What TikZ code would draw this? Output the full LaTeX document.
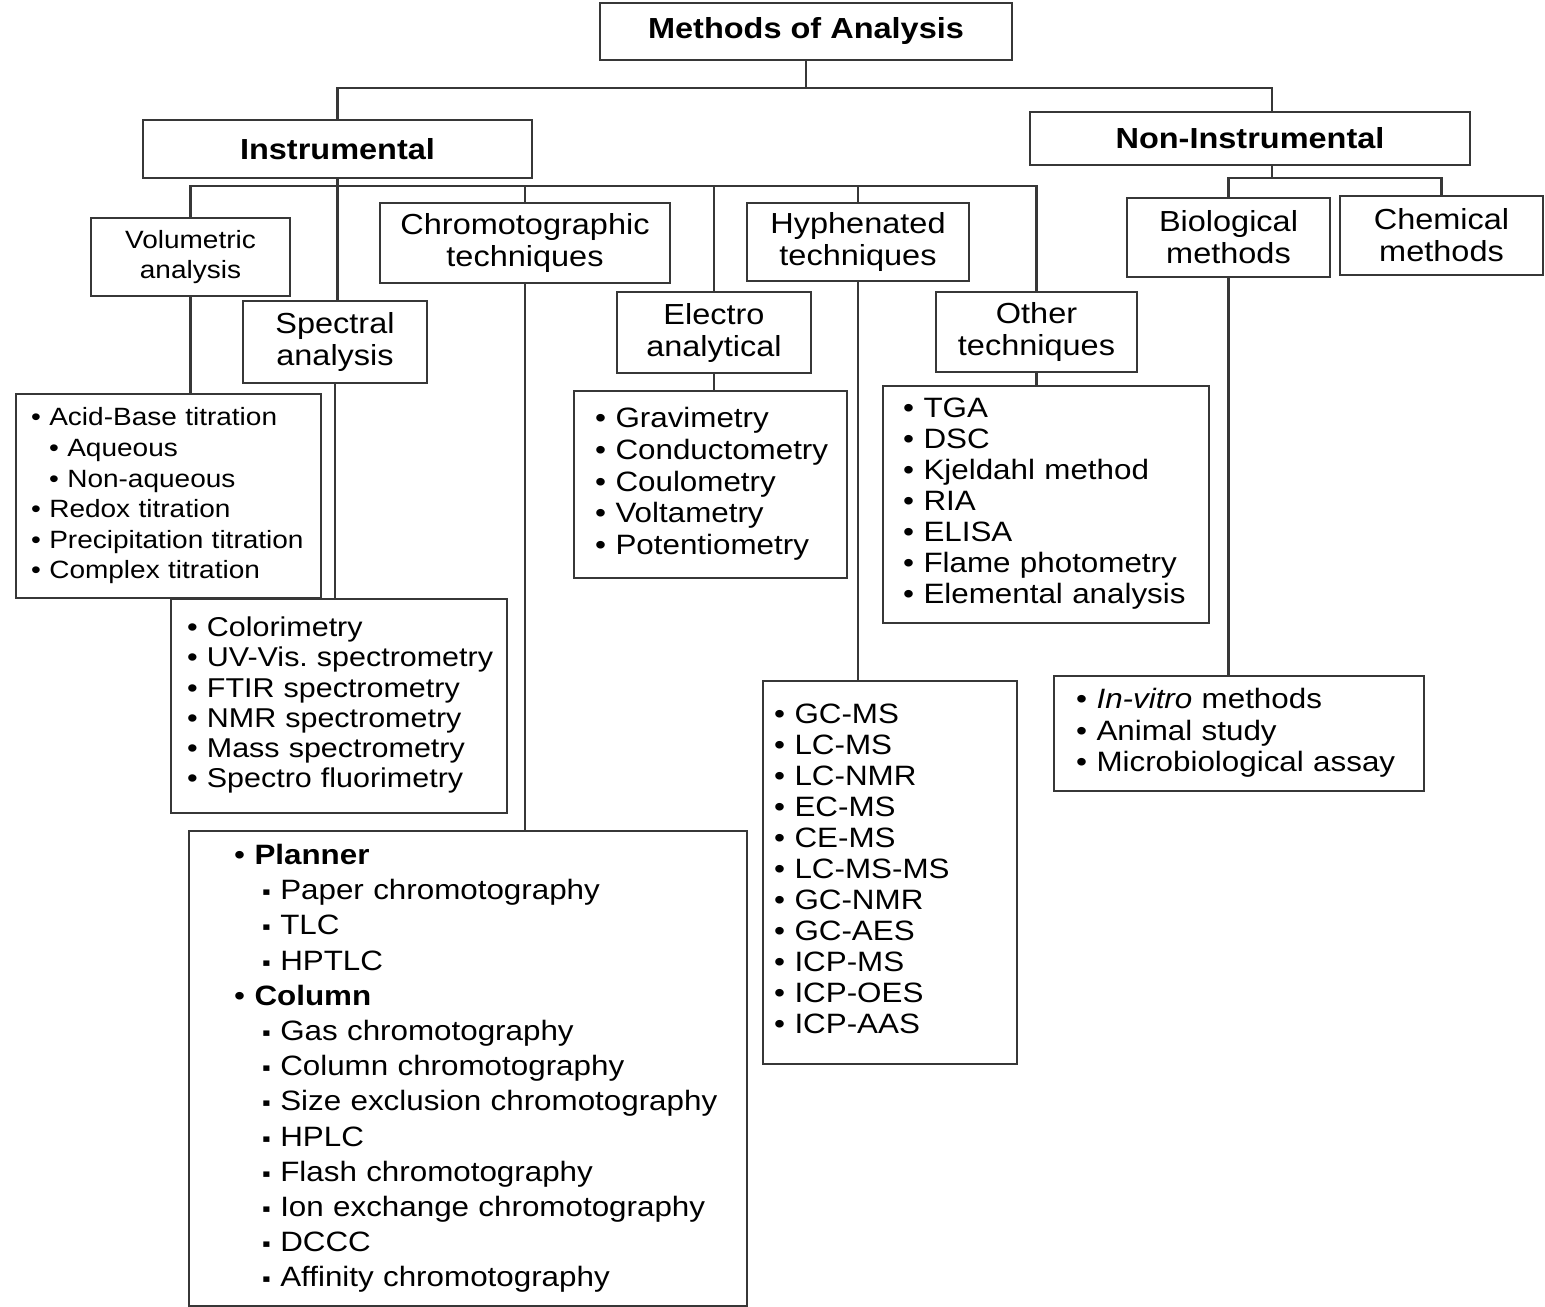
\documentclass[tikz,border=0pt]{standalone}
\usepackage{fontspec}
\setmainfont{Liberation Sans}[FakeStretch=1.12]
\usepackage{tikz}
\frenchspacing
\definecolor{lineG}{RGB}{55,55,55}
\newcommand{\bl}{\textbullet\ }
\newcommand{\sq}{\hspace*{14pt}{\fontsize{11}{11}\selectfont ▪}\ }
\newcommand{\sub}{\hspace*{9pt}\textbullet\ }
\newcommand{\lst}[2]{\noindent\hspace*{#1}\begin{tabular}{@{}l@{}}#2\end{tabular}}
\tikzset{
  catbox/.style={draw=lineG, line width=1.2pt, align=center, inner sep=0pt, font=\fontsize{14.5}{16}\selectfont},
  listbox/.style={draw=lineG, line width=1.2pt, anchor=north west, inner sep=0pt, align=left},
  link/.style={draw=lineG, line width=1.2pt}
}

\begin{document}
\begin{tikzpicture}[x=0.5pt,y=-0.5pt]
\fill[white] (0,0) rectangle (1545,1306);
\useasboundingbox (0,0) rectangle (1545,1306);
% top levels
\node[catbox, minimum width=206pt, minimum height=28.5pt, font=\fontsize{14.5}{16}\selectfont\bfseries] (root) at (806,31.5) {Methods of Analysis};
\node[catbox, minimum width=194.5pt, minimum height=29pt, font=\fontsize{14.5}{16}\selectfont\bfseries] (instr) at (337.5,149) {Instrumental};
\node[catbox, minimum width=220pt, minimum height=26.5pt, font=\fontsize{14.5}{16}\selectfont\bfseries] (nonin) at (1250,138.5) {Non-Instrumental};
% groups
\node[catbox, minimum width=99.5pt, minimum height=39pt, font=\fontsize{12.5}{15}\selectfont] (volu) at (190.5,257) {Volumetric\\analysis};
\node[catbox, minimum width=92pt, minimum height=41pt] (spec) at (335,342) {Spectral\\analysis};
\node[catbox, minimum width=145pt, minimum height=40pt] (chromo) at (525,243) {Chromotographic\\techniques};
\node[catbox, minimum width=97pt, minimum height=40.5pt] (electro) at (714,332.5) {Electro\\analytical};
\node[catbox, minimum width=111pt, minimum height=39pt] (hyph) at (858,242) {Hyphenated\\techniques};
\node[catbox, minimum width=100.5pt, minimum height=40pt] (other) at (1036.5,332) {Other\\techniques};
\node[catbox, minimum width=101.5pt, minimum height=39.5pt] (bio) at (1228.5,237.5) {Biological\\methods};
\node[catbox, minimum width=101.5pt, minimum height=39.5pt] (chem) at (1441.5,235.5) {Chemical\\methods};
% lists
\node[listbox, text width=152.5pt, minimum height=102pt, font=\fontsize{12.5}{15.3}\selectfont] (volulist) at (15,393)
  {\lst{7.5pt}{\bl Acid-Base titration\\ \sub Aqueous\\ \sub Non-aqueous\\ \bl Redox titration\\ \bl Precipitation titration\\ \bl Complex titration}};
\node[listbox, text width=168pt, minimum height=107pt, font=\fontsize{13.6}{15.1}\selectfont] (speclist) at (170,598)
  {\lst{8pt}{\bl Colorimetry\\ \bl UV-Vis. spectrometry\\ \bl FTIR spectrometry\\ \bl NMR spectrometry\\ \bl Mass spectrometry\\ \bl Spectro fluorimetry}};
\node[listbox, text width=279pt, minimum height=237.5pt, font=\fontsize{14}{17.6}\selectfont] (chromlist) at (188,830)
  {\lst{22.5pt}{\bl\textbf{Planner}\\ \sq Paper chromotography\\ \sq TLC\\ \sq HPTLC\\ \bl\textbf{Column}\\ \sq Gas chromotography\\ \sq Column chromotography\\ \sq Size exclusion chromotography\\ \sq HPLC\\ \sq Flash chromotography\\ \sq Ion exchange chromotography\\ \sq DCCC\\ \sq Affinity chromotography}};
\node[listbox, text width=136.5pt, minimum height=93.5pt, font=\fontsize{14}{15.9}\selectfont] (eleclist) at (573,390)
  {\lst{10.5pt}{\bl Gravimetry\\ \bl Conductometry\\ \bl Coulometry\\ \bl Voltametry\\ \bl Potentiometry}};
\node[listbox, text width=163pt, minimum height=118.5pt, font=\fontsize{14}{15.5}\selectfont] (othlist) at (882,385)
  {\lst{10pt}{\bl TGA\\ \bl DSC\\ \bl Kjeldahl method\\ \bl RIA\\ \bl ELISA\\ \bl Flame photometry\\ \bl Elemental analysis}};
\node[listbox, text width=127pt, minimum height=191.5pt, font=\fontsize{14}{15.5}\selectfont] (hyphlist) at (762,680)
  {\lst{5.5pt}{\bl GC-MS\\ \bl LC-MS\\ \bl LC-NMR\\ \bl EC-MS\\ \bl CE-MS\\ \bl LC-MS-MS\\ \bl GC-NMR\\ \bl GC-AES\\ \bl ICP-MS\\ \bl ICP-OES\\ \bl ICP-AAS}};
\node[listbox, text width=185pt, minimum height=57.5pt, font=\fontsize{14}{15.75}\selectfont] (biolist) at (1053,675)
  {\lst{11pt}{\bl \textit{In-vitro} methods\\ \bl Animal study\\ \bl Microbiological assay}};
% connectors
\coordinate (topbus) at (800,88);
\coordinate (insbus) at (0,186);
\coordinate (nibus) at (0,178);
\coordinate (nijoin) at ([xshift=11pt]nonin.north);
\coordinate (nidrop) at ([xshift=11pt]nonin.south);
\draw[link] (root.south) -- (root.south |- topbus);
\draw[link] (instr.north) |- (nijoin |- topbus) -- (nijoin);
\draw[link] (instr.south) -- (instr.south |- spec.north);
\draw[link] (volu.north) |- (insbus -| other.north) -- (other.north);
\foreach \n in {chromo,electro,hyph}
  \draw[link] (\n.north) -- (\n.north |- insbus);
\draw[link] (nidrop) -- (nidrop |- nibus);
\draw[link] (bio.north) |- (nibus -| chem.north) -- (chem.north);
\draw[link] (volu.south) -- (volu.south |- volulist.north);
\draw[link] (spec.south) -- (spec.south |- speclist.north);
\draw[link] (chromo.south) -- (chromo.south |- chromlist.north);
\draw[link] (electro.south) -- (electro.south |- eleclist.north);
\draw[link] (other.south) -- (other.south |- othlist.north);
\draw[link] (hyph.south) -- (hyph.south |- hyphlist.north);
\draw[link] (bio.south) -- (bio.south |- biolist.north);
\end{tikzpicture}
\end{document}
